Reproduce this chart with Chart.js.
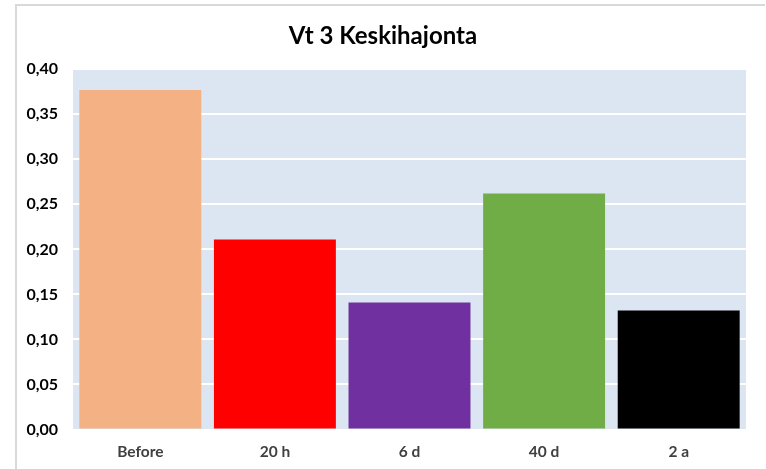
<!DOCTYPE html>
<html>
<head>
<meta charset="utf-8">
<script src="https://cdn.jsdelivr.net/npm/chart.js@4/dist/chart.umd.min.js"></script>
<style>
  html, body { margin: 0; padding: 0; background: #fff; }
  #wrap { position: relative; width: 766px; height: 469px; }
  #frame {
    position: absolute; left: 15px; top: 4px; width: 748px; height: 470px;
    border-top: 2px solid #d9d9d9; border-left: 2px solid #d9d9d9;
  }
  canvas { position: absolute; left: 0; top: 0; }
</style>
</head>
<body>
<div id="wrap">
  <div id="frame"></div>
  <canvas id="myChart" width="766" height="469"></canvas>
</div>
<script>
'use strict';

// Vt 3 standard deviation per measurement time
const categories = ['Before', '20 h', '6 d', '40 d', '2 a'];
const values = [0.377, 0.211, 0.141, 0.262, 0.132];
const barColors = ['#f4b183', '#ff0000', '#7030a0', '#70ad47', '#000000'];
const titleText = 'Vt 3 Keskihajonta';

// fill the plot area light blue before the grid is drawn
const plotBackground = {
  id: 'plotBackground',
  beforeDraw: function (chart) {
    const a = chart.chartArea;
    const ctx = chart.ctx;
    ctx.save();
    ctx.fillStyle = '#dce6f2';
    ctx.fillRect(a.left, a.top, a.right - a.left, a.bottom - a.top);
    ctx.restore();
  }
};

const fontFamily = 'Lato, "Open Sans", sans-serif';

new Chart(document.getElementById('myChart'), {
  type: 'bar',
  data: {
    labels: categories,
    datasets: [{
      data: values,
      backgroundColor: barColors,
      borderWidth: 0,
      categoryPercentage: 1,
      barPercentage: 0.906
    }]
  },
  options: {
    responsive: false,
    animation: false,
    layout: { padding: { left: 20, right: 20, top: 0, bottom: 0 } },
    plugins: {
      legend: { display: false },
      tooltip: { enabled: false },
      title: {
        display: true,
        text: titleText,
        color: '#000000',
        font: { family: fontFamily, size: 24, weight: 'bold', lineHeight: 1.2 },
        padding: { top: 22, bottom: 18.4 }
      }
    },
    scales: {
      x: {
        grid: { display: false, drawTicks: false },
        border: { display: false },
        ticks: {
          color: '#404040',
          padding: 13,
          font: { family: fontFamily, size: 15.5, weight: 'bold' }
        },
        afterFit: function (scale) { scale.height = 39.5; }
      },
      y: {
        min: 0,
        max: 0.4,
        grid: { color: '#ffffff', lineWidth: 2, drawTicks: false },
        border: { display: false },
        ticks: {
          stepSize: 0.05,
          color: '#000000',
          padding: 15,
          font: { family: fontFamily, size: 16, weight: 'bold' },
          callback: function (v) { return v.toFixed(2).replace('.', ','); }
        },
        afterFit: function (scale) { scale.width = 53; }
      }
    }
  },
  plugins: [plotBackground]
});
</script>
</body>
</html>
